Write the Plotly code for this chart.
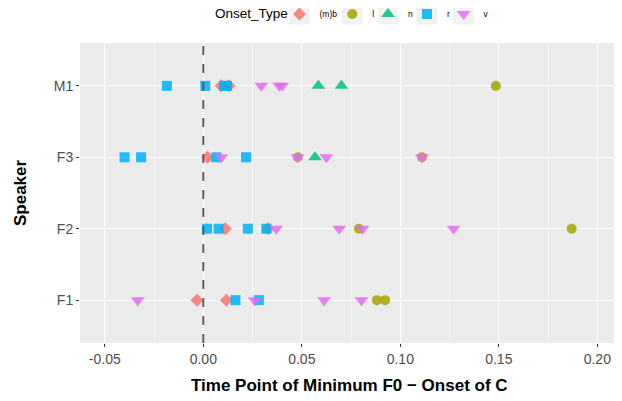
import plotly.graph_objects as go

speakers = ["F1", "F2", "F3", "M1"]
onset_types = ["(m)b", "l", "n", "r", "v"]
colors = ["#F8766D", "#A3A500", "#00BF7D", "#00B0F6", "#E76BF3"]
symbols = ["diamond", "circle", "triangle-up", "square", "triangle-down"]
sizes = [10, 10, 12, 10, 12]

# values per onset type per speaker
mb_vals = {"M1": [0.009, 0.013], "F3": [0.0022], "F2": [0.0112, 0.0327], "F1": [-0.0032, 0.0117]}
l_vals = {"M1": [0.1485], "F3": [0.048, 0.111], "F2": [0.079, 0.187], "F1": [0.0881, 0.0923]}
n_vals = {"M1": [0.0584, 0.0701], "F3": [0.0567], "F2": [], "F1": []}
r_vals = {"M1": [-0.0185, 0.001, 0.0105, 0.012], "F3": [-0.040, -0.0316, 0.0066, 0.0217],
          "F2": [0.0019, 0.0078, 0.0226, 0.032], "F1": [0.0163, 0.0282]}
v_vals = {"M1": [0.0294, 0.0385, 0.040], "F3": [0.0092, 0.0478, 0.0625, 0.111],
          "F2": [0.037, 0.069, 0.0808, 0.127], "F1": [-0.0333, 0.0261, 0.0613, 0.0803]}
all_vals = [mb_vals, l_vals, n_vals, r_vals, v_vals]

x_ticks = [-0.05, 0.0, 0.05, 0.10, 0.15, 0.20]
x_ticklabels = ["-0.05", "0.00", "0.05", "0.10", "0.15", "0.20"]

# legend key centres (paper x) for each onset type
key_centers = [0.408, 0.506, 0.5725, 0.645, 0.713]
key_half_w = 0.0195
legend_ids = ["legend", "legend2", "legend3", "legend4", "legend5"]

fig = go.Figure()
for name, col, sym, sz, vals, lid in zip(onset_types, colors, symbols, sizes, all_vals, legend_ids):
    xs, ys = [], []
    for sp in ["M1", "F3", "F2", "F1"]:
        for v in vals[sp]:
            xs.append(v)
            ys.append(sp)
    fig.add_trace(go.Scatter(
        x=xs, y=ys, mode="markers", name=name, legend=lid,
        marker=dict(color=col, symbol=sym, size=sz, opacity=0.85, line=dict(width=0)),
    ))

fig.add_vline(x=0, line=dict(color="#555555", width=1.8, dash="dash"))

legend_common = dict(
    orientation="h", xanchor="left", xref="paper",
    y=0.9847, yanchor="middle", yref="container",
    font=dict(size=8.5, color="black"), itemwidth=30, bgcolor="rgba(0,0,0,0)",
)
layout_legends = {}
for lid, kc in zip(legend_ids, key_centers):
    layout_legends[lid] = dict(legend_common, x=kc - 20 / 538)

# page body has an 8px margin, so the figure is sized to fit the window
fig.update_layout(
    width=614, height=393,
    margin=dict(l=72, r=4, t=35, b=58),
    paper_bgcolor="white", plot_bgcolor="#EBEBEB",
    font=dict(family="Liberation Sans, Arial, sans-serif", color="#4D4D4D"),
    showlegend=True,
    **layout_legends,
)
for kc in key_centers:
    fig.add_shape(type="rect", xref="paper", yref="paper",
                  x0=kc - key_half_w, x1=kc + key_half_w, y0=1.062, y1=1.132,
                  fillcolor="#F2F2F2", line=dict(width=0), layer="below")

fig.update_xaxes(
    range=[-0.0626, 0.2105], tickvals=x_ticks, ticktext=x_ticklabels,
    showgrid=True, gridcolor="white", gridwidth=1.2, zeroline=False,
    minor=dict(dtick=0.05, tick0=0.025, showgrid=True, gridcolor="#F5F5F5", gridwidth=0.6),
    ticks="outside", ticklen=3, tickcolor="#333333", tickfont=dict(size=14, color="#4D4D4D"),
    showline=False,
)
fig.update_yaxes(
    type="category", categoryorder="array", categoryarray=speakers, range=[-0.6, 3.6],
    showgrid=True, gridcolor="white", gridwidth=1.2, zeroline=False,
    ticks="outside", ticklen=3, tickcolor="#333333", tickfont=dict(size=14, color="#4D4D4D"),
    showline=False,
)
fig.add_annotation(text="Onset_Type", xref="paper", yref="paper", x=0.2472, y=1.0967,
                   xanchor="left", yanchor="middle", showarrow=False,
                   font=dict(size=13.5, color="black"))
fig.add_annotation(text="<b>Speaker</b>", xref="paper", yref="paper", x=-0.1115, y=0.5,
                   xanchor="center", yanchor="middle",
                   textangle=-90, showarrow=False, font=dict(size=17, color="black"))
fig.add_annotation(text="<b>Time Point of Minimum F0 \u2212 Onset of C</b>", xref="paper", yref="paper",
                   x=0.5, y=-0.143, xanchor="center", yanchor="middle",
                   showarrow=False, font=dict(size=17, color="black"))

fig.write_html("out.html")
